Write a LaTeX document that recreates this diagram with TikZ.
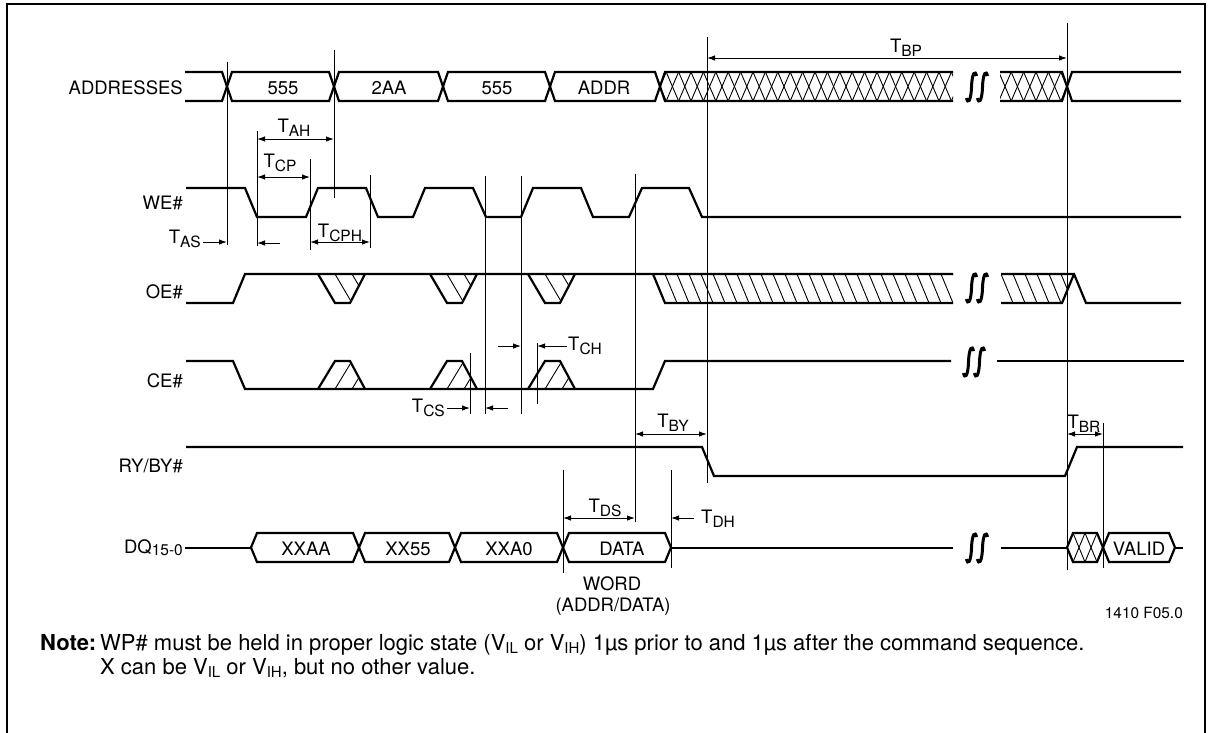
\documentclass[tikz,border=0pt]{standalone}
\usepackage{fontspec}
\setmainfont{TeX Gyre Heros}
\usetikzlibrary{arrows.meta}
\newcommand\hexbox[6]{\draw[#1] (#2,{(#4+#5)/2}) -- ({#2+#6},#4) -- ({#3-#6},#4) -- (#3,{(#4+#5)/2}) -- ({#3-#6},#5) -- ({#2+#6},#5) -- cycle;}
\newcommand\tlab[1]{T\raisebox{-4pt}{\fontsize{15.5}{16}\selectfont #1}}
\newcommand\vsub[1]{V\raisebox{-3.5pt}{\fontsize{15}{15}\selectfont #1}}
\newcommand\oedip[1]{%
 \begin{scope}
 \clip (#1,274) -- ({#1+17},303) -- ({#1+32},303) -- ({#1+47},274) -- cycle;
 \foreach \k in {1,2} \draw[hatch] ({#1+17*\k},274) -- ({#1+17+17*\k},303);
 \end{scope}
 \draw[sig] (#1,274) -- ({#1+17},303) -- ({#1+32},303) -- ({#1+47},274);}
\newcommand\cehump[1]{%
 \begin{scope}
 \clip (#1,389) -- ({#1+17},361) -- ({#1+32},361) -- ({#1+47},389) -- cycle;
 \foreach \k in {1,2} \draw[hatch] ({#1+17*\k},389) -- ({#1+17+17*\k},361);
 \end{scope}
 \draw[sig] (#1,389) -- ({#1+17},361) -- ({#1+32},361) -- ({#1+47},389);}
\newcommand\squig[2]{%
 \foreach \dx in {-5.5,5.5} \draw[line width=3pt] ({#1+\dx-5},{#2+11}) .. controls ({#1+\dx-4},{#2+17}) and ({#1+\dx-0.5},{#2+15}) .. ({#1+\dx},#2) .. controls ({#1+\dx+0.5},{#2-15}) and ({#1+\dx+4},{#2-17}) .. ({#1+\dx+5},{#2-11});}
\begin{document}
\begin{tikzpicture}[x=1pt,y=-1pt,
  sig/.style={line width=2.2pt},
  hatch/.style={line width=0.9pt},
  vline/.style={line width=1pt},
  dimline/.style={line width=1pt,{Latex[length=8pt,width=5.5pt]}-{Latex[length=8pt,width=5.5pt]}},
  arrline/.style={line width=1pt,-{Latex[length=8pt,width=5.5pt]}},
  lbl/.style={inner sep=0pt,font=\fontsize{18.5}{22}\selectfont},
  notefont/.style={inner sep=0pt,font=\fontsize{22}{26}\selectfont}]
\useasboundingbox (0,0) rectangle (1212,732);
\draw[line width=1.3pt] (7,745) -- (7,4) -- (1205,4) -- (1205,745);

% signal names
\node[lbl,anchor=base east] (laddr) at (183,94.5) {ADDRESSES};
\node[lbl,anchor=base east] (lwe) at (183,209) {WE\#};
\node[lbl,anchor=base east] (loe) at (183,298) {OE\#};
\node[lbl,anchor=base east] (lce) at (183,387) {CE\#};
\node[lbl,anchor=base east] (lry) at (183,472) {RY/BY\#};
\node[lbl,anchor=base east] (ldq) at (183,553) {DQ\raisebox{-2pt}{\fontsize{15.5}{16}\selectfont 15-0}};

% ADDRESSES
\draw[sig] (185,72) -- (222,72) -- (227,86.5);
\draw[sig] (185,101) -- (222,101) -- (227,86.5);
\hexbox{sig}{227}{334}{72}{101}{5}
\hexbox{sig}{334}{443}{72}{101}{5}
\hexbox{sig}{443}{550}{72}{101}{5}
\hexbox{sig}{550}{660}{72}{101}{5}
\node[lbl,anchor=base] (a1) at (283,94.5) {555};
\node[lbl,anchor=base] (a2) at (389,94.5) {2AA};
\node[lbl,anchor=base] (a3) at (497,94.5) {555};
\node[lbl,anchor=base] (a4) at (604,94.5) {ADDR};
\begin{scope}
\clip (660,86.5) -- (665,72) -- (953,72) -- (953,101) -- (665,101) -- cycle;
\foreach \k in {0,...,24} {\draw[hatch] ({660+12.4*\k-6.2},72) -- ({660+12.4*\k+6.2},101); \draw[hatch] ({660+12.4*\k-6.2},101) -- ({660+12.4*\k+6.2},72);}
\end{scope}
\draw[sig] (953,72) -- (665,72) -- (660,86.5) -- (665,101) -- (953,101);
\begin{scope}
\clip (1000,72) -- (1062,72) -- (1067,86.5) -- (1062,101) -- (1000,101) -- cycle;
\foreach \k in {0,...,6} {\draw[hatch] ({1067-12.4*\k-6.2},72) -- ({1067-12.4*\k+6.2},101); \draw[hatch] ({1067-12.4*\k-6.2},101) -- ({1067-12.4*\k+6.2},72);}
\end{scope}
\draw[sig] (1000,72) -- (1062,72) -- (1072,101) -- (1181,101);
\draw[sig] (1000,101) -- (1062,101) -- (1072,72) -- (1181,72);
\squig{977}{87}

% WE#
\draw[sig] (186,188) -- (245,188) -- (257,217) -- (306,217) -- (318,188) -- (366,188) -- (378,217) -- (413,217) -- (425,188) -- (473,188) -- (486,217) -- (521,217) -- (533,188) -- (581,188) -- (593,217) -- (629,217) -- (642,188) -- (689,188) -- (702,217) -- (1181,217);

% OE#
\draw[sig] (186,303) -- (233,303) -- (245,274) -- (953,274);
\draw[sig] (1001,274) -- (1074,274) -- (1086,303) -- (1181,303);
\oedip{318}\oedip{430}\oedip{528}
\begin{scope}
\clip (653,274) -- (953,274) -- (953,303) -- (665,303) -- cycle;
\foreach \k in {1,...,25} \draw[hatch] ({653+12*\k},274) -- ({665+12*\k},303);
\end{scope}
\draw[sig] (653,274) -- (665,303) -- (953,303);
\begin{scope}
\clip (1001,274) -- (1074,274) -- (1062,303) -- (1001,303) -- cycle;
\foreach \k in {0,...,6} \draw[hatch] ({989+12*\k},274) -- ({1001+12*\k},303);
\end{scope}
\draw[sig] (1001,303) -- (1062,303) -- (1074,274);
\squig{977}{288}

% CE#
\draw[sig] (186,361) -- (233,361) -- (245,389) -- (653,389) -- (665,361) -- (951,361);
\draw[sig] (997,361) -- (1184,361);
\cehump{318}\cehump{430}\cehump{528}
\squig{974}{362}

% RY/BY#
\draw[sig] (186,447) -- (702,447) -- (714,476) -- (1065,476) -- (1077,447) -- (1183,447);

% DQ
\draw[sig] (185,548) -- (251,548);
\hexbox{sig}{251}{359}{533}{562}{6}
\hexbox{sig}{359}{455}{533}{562}{6}
\hexbox{sig}{455}{563}{533}{562}{6}
\hexbox{sig}{563}{671}{533}{562}{6}
\node[lbl,anchor=base] (d1) at (306,555) {XXAA};
\node[lbl,anchor=base] (d2) at (408,555) {XX55};
\node[lbl,anchor=base] (d3) at (509,555) {XXA0};
\node[lbl,anchor=base] (d4) at (622,555) {DATA};
\draw[sig] (671,548) -- (953,548);
\draw[sig] (1001,548) -- (1067,548);
\begin{scope}
\clip (1067,547.5) -- (1073,533) -- (1097,533) -- (1103,547.5) -- (1097,562) -- (1073,562) -- cycle;
\foreach \k in {1,2} {\draw[hatch] ({1067+12*\k-6},533) -- ({1067+12*\k+6},562); \draw[hatch] ({1067+12*\k-6},562) -- ({1067+12*\k+6},533);}
\end{scope}
\hexbox{sig}{1067}{1103}{533}{562}{6}
\hexbox{sig}{1103}{1175}{533}{562}{6}
\node[lbl,anchor=base] (d5) at (1139,555) {VALID};
\draw[sig] (1175,548) -- (1183,548);
\squig{977}{548}

% timing reference lines
\draw[vline] (227,62) -- (227,245);
\draw[vline] (334,50) -- (334,198);
\draw[vline] (257,131) -- (257,246);
\draw[vline] (310,159) -- (310,250);
\draw[vline] (370,175) -- (370,248);
\draw[vline] (485,176) -- (485,414);
\draw[vline] (521,176) -- (521,414);
\draw[vline] (470,353) -- (470,414);
\draw[vline] (537,343) -- (537,404);
\draw[vline] (635,174) -- (635,522);
\draw[vline] (707,37) -- (707,483);
\draw[vline] (1067,23) -- (1067,570);
\draw[vline] (1103,423) -- (1103,568);
\draw[vline] (563,470) -- (563,573);
\draw[vline] (671,470) -- (671,568);

% dimension arrows
\coordinate (ah1) at (257,139); \coordinate (ah2) at (334,139);
\draw[dimline] (ah1) -- (ah2);
\coordinate (cp1) at (257,177); \coordinate (cp2) at (310,177);
\draw[dimline] (cp1) -- (cp2);
\coordinate (cph1) at (310,242); \coordinate (cph2) at (370,242);
\draw[dimline] (cph1) -- (cph2);
\coordinate (as1) at (203,242); \coordinate (as2) at (227,242);
\draw[arrline] (as1) -- (as2);
\coordinate (cpl1) at (280,243); \coordinate (cpl2) at (257,243);
\draw[arrline] (cpl1) -- (cpl2);
\coordinate (bp1) at (707,58); \coordinate (bp2) at (1067,58);
\draw[dimline] (bp1) -- (bp2);
\coordinate (cs1) at (447,408); \coordinate (cs2) at (470,408);
\draw[arrline] (cs1) -- (cs2);
\coordinate (csl1) at (508,408); \coordinate (csl2) at (485,408);
\draw[arrline] (csl1) -- (csl2);
\coordinate (chr1) at (498,346); \coordinate (chr2) at (521,346);
\draw[arrline] (chr1) -- (chr2);
\coordinate (ch1) at (567,346); \coordinate (ch2) at (537,346);
\draw[arrline] (ch1) -- (ch2);
\coordinate (by1) at (635,434); \coordinate (by2) at (707,434);
\draw[dimline] (by1) -- (by2);
\coordinate (br1) at (1067,434); \coordinate (br2) at (1103,434);
\draw[dimline] (br1) -- (br2);
\coordinate (ds1) at (563,518); \coordinate (ds2) at (635,518);
\draw[dimline] (ds1) -- (ds2);
\coordinate (dh1) at (694,518); \coordinate (dh2) at (671,518);
\draw[arrline] (dh1) -- (dh2);

% timing labels
\node[lbl,anchor=base] (tah) at (294,132) {\tlab{AH}};
\node[lbl,anchor=base] (tcp) at (280,167) {\tlab{CP}};
\node[lbl,anchor=base] (tcph) at (340,237) {\tlab{CPH}};
\node[lbl,anchor=base east] (tas) at (201,243) {\tlab{AS}};
\node[lbl,anchor=base] (tbp) at (906,52) {\tlab{BP}};
\node[lbl,anchor=base east] (tcs) at (445,412) {\tlab{CS}};
\node[lbl,anchor=base west] (tch) at (568,350) {\tlab{CH}};
\node[lbl,anchor=base] (tby) at (673,427) {\tlab{BY}};
\node[lbl,anchor=base] (tbr) at (1084,428) {\tlab{BR}};
\node[lbl,anchor=base] (tds) at (605,512) {\tlab{DS}};
\node[lbl,anchor=base west] (tdh) at (701,523) {\tlab{DH}};

% captions
\node[lbl,anchor=base] (word) at (612,590) {WORD};
\node[lbl,anchor=base] (addrdata) at (613,611) {(ADDR/DATA)};
\node[inner sep=0pt,font=\fontsize{15.4}{18}\selectfont,anchor=base east] (fig) at (1183,618) {1410 F05.0};
\node[notefont,anchor=base west] (note) at (40,650) {\textbf{Note:}};
\node[notefont,anchor=base west] (note1) at (100,650) {WP\# must be held in proper logic state (\vsub{IL} or \vsub{IH}) 1µs prior to and 1µs after the command sequence.};
\node[notefont,anchor=base west] (note2) at (100,674) {X can be \vsub{IL} or \vsub{IH}, but no other value.};
\end{tikzpicture}
\end{document}
